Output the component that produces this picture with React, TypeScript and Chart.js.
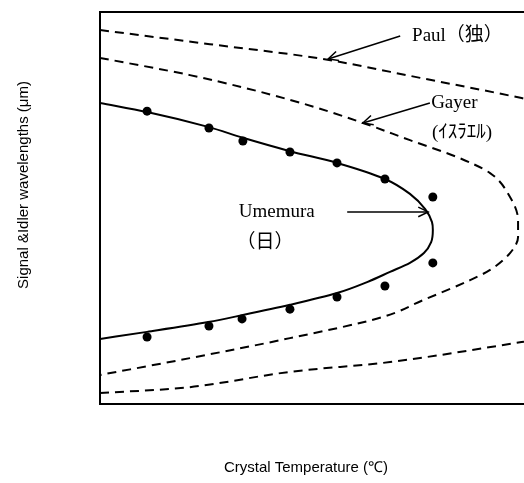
import React, { useEffect, useRef } from "react";
import { Chart, registerables } from "chart.js";

Chart.register(...registerables);

// Umemura fitted curve (solid), in arbitrary units (temperature x, wavelength y)
const umemuraX = [0, 11.1, 25.5, 33.7, 44.8, 55.9, 67.2, 73.1, 76.7, 78.3, 78.5, 78.1, 76.4, 73.1, 68.4, 63.0, 55.9, 44.8, 33.7, 25.5, 11.1, 0];
const umemuraY = [76.8, 74.5, 70.7, 67.9, 64.5, 61.5, 57.4, 53.6, 49.7, 46.4, 44.4, 41.3, 38.5, 36.0, 33.7, 31.1, 28.3, 25.3, 22.7, 20.9, 18.4, 16.6];

// Measured points
const measX = [11.1, 25.7, 33.7, 44.8, 55.9, 67.2, 78.5, 78.5, 67.2, 55.9, 44.8, 33.5, 25.7, 11.1];
const measY = [74.7, 70.4, 67.1, 64.3, 61.5, 57.4, 52.8, 36.0, 30.1, 27.3, 24.2, 21.7, 19.9, 17.1];

// Gayer curve (dashed)
const gayerX = [0, 21.2, 44.8, 62.0, 73.1, 84.2, 92.0, 96.7, 98.6, 98.6, 96.7, 92.0, 87.3, 76.2, 66.7, 44.8, 21.2, 0];
const gayerY = [88.3, 83.9, 77.6, 71.7, 67.3, 63.0, 58.9, 52.8, 46.9, 42.6, 38.5, 34.2, 31.6, 26.5, 22.2, 16.8, 11.7, 7.4];

// Paul curve (dashed), two branches
const paulTopX = [0, 25.9, 52.6, 75.5, 98.3, 100];
const paulTopY = [95.4, 91.8, 88.0, 83.2, 78.3, 77.9];
const paulBotX = [0, 21.2, 44.8, 68.4, 98.3, 100];
const paulBotY = [2.8, 4.3, 8.2, 10.7, 15.6, 15.9];

const xTitle = "Crystal Temperature (℃)";
const yTitle = "Signal &Idler wavelengths (μm)";

// annotations: text labels in data units
const labels = [
  { text: "Paul（独）", x: 73.6, y: 93.9, align: "left" },
  { text: "Gayer", x: 78.1, y: 76.8, align: "left" },
  { text: "(ｲｽﾗｴﾙ)", x: 78.3, y: 69.1, align: "left" },
  { text: "Umemura", x: 41.7, y: 49.0, align: "center" },
  { text: "（日）", x: 38.9, y: 41.1, align: "center" },
];
const arrows = [
  { x1: 70.8, y1: 93.9, x2: 53.8, y2: 88.0 },
  { x1: 77.8, y1: 76.8, x2: 62.0, y2: 71.7 },
  { x1: 58.3, y1: 49.0, x2: 77.4, y2: 49.0 },
];

const pts = (xs: number[], ys: number[]) => xs.map((x, i) => ({ x, y: ys[i] }));

const overlay = {
  id: "overlay",
  afterDraw(chart: any) {
    const { ctx, chartArea, scales } = chart;
    const sx = scales.x, sy = scales.y;
    ctx.save();
    // top border
    ctx.strokeStyle = "#000";
    ctx.lineWidth = 2;
    ctx.beginPath();
    ctx.moveTo(chartArea.left - 1, chartArea.top);
    ctx.lineTo(chart.width, chartArea.top);
    ctx.stroke();
    // arrows
    ctx.lineWidth = 1.5;
    arrows.forEach((a) => {
      const x1 = sx.getPixelForValue(a.x1), y1 = sy.getPixelForValue(a.y1);
      const x2 = sx.getPixelForValue(a.x2), y2 = sy.getPixelForValue(a.y2);
      ctx.beginPath();
      ctx.moveTo(x1, y1);
      ctx.lineTo(x2, y2);
      ctx.stroke();
      const ang = Math.atan2(y2 - y1, x2 - x1);
      const L = 11, w = 0.45;
      ctx.beginPath();
      ctx.moveTo(x2 - L * Math.cos(ang - w), y2 - L * Math.sin(ang - w));
      ctx.lineTo(x2, y2);
      ctx.lineTo(x2 - L * Math.cos(ang + w), y2 - L * Math.sin(ang + w));
      ctx.stroke();
    });
    // labels
    ctx.fillStyle = "#000";
    ctx.textBaseline = "middle";
    ctx.font = "19px 'Liberation Serif', 'Noto Sans CJK JP', serif";
    labels.forEach((l) => {
      ctx.textAlign = l.align as CanvasTextAlign;
      ctx.fillText(l.text, sx.getPixelForValue(l.x), sy.getPixelForValue(l.y));
    });
    // axis titles
    ctx.font = "15px 'Liberation Sans', Arial, sans-serif";
    ctx.textAlign = "center";
    ctx.fillText(xTitle, 306, 468);
    ctx.translate(24, 185);
    ctx.rotate(-Math.PI / 2);
    ctx.fillText(yTitle, 0, 0);
    ctx.restore();
  },
};

export default function App() {
  const ref = useRef<HTMLCanvasElement>(null);
  useEffect(() => {
    if (!ref.current) return;
    const dash = [9, 6];
    const curve = { showLine: true, borderColor: "#000", borderWidth: 2, pointRadius: 0, indexAxis: "y", cubicInterpolationMode: "monotone" };
    const branch = { showLine: true, borderColor: "#000", borderWidth: 2, pointRadius: 0, cubicInterpolationMode: "monotone", borderDash: dash };
    const chart = new Chart(ref.current, {
      type: "scatter",
      data: {
        datasets: [
          { ...curve, data: pts(umemuraX, umemuraY) },
          { ...curve, data: pts(gayerX, gayerY), borderDash: dash },
          { ...branch, data: pts(paulTopX, paulTopY) },
          { ...branch, data: pts(paulBotX, paulBotY) },
          { data: pts(measX, measY), showLine: false, pointRadius: 4.5, pointBackgroundColor: "#000", pointBorderColor: "#000", pointBorderWidth: 0 },
        ] as any,
      },
      options: {
        animation: false,
        responsive: true,
        maintainAspectRatio: false,
        layout: { autoPadding: false, padding: { left: 100, top: 12, right: 0, bottom: 79 } },
        plugins: { legend: { display: false }, tooltip: { enabled: false } },
        scales: {
          x: {
            type: "linear", min: 0, max: 100,
            grid: { display: false, drawTicks: false },
            ticks: { display: false },
            border: { display: true, color: "#000", width: 2 },
          },
          y: {
            type: "linear", min: 0, max: 100,
            grid: { display: false, drawTicks: false },
            ticks: { display: false },
            border: { display: true, color: "#000", width: 2 },
          },
        },
      },
      plugins: [overlay],
    });
    return () => chart.destroy();
  }, []);
  return (
    <div style={{ position: "absolute", left: 0, top: 0, width: 524, height: 483 }}>
      <canvas ref={ref} />
    </div>
  );
}
